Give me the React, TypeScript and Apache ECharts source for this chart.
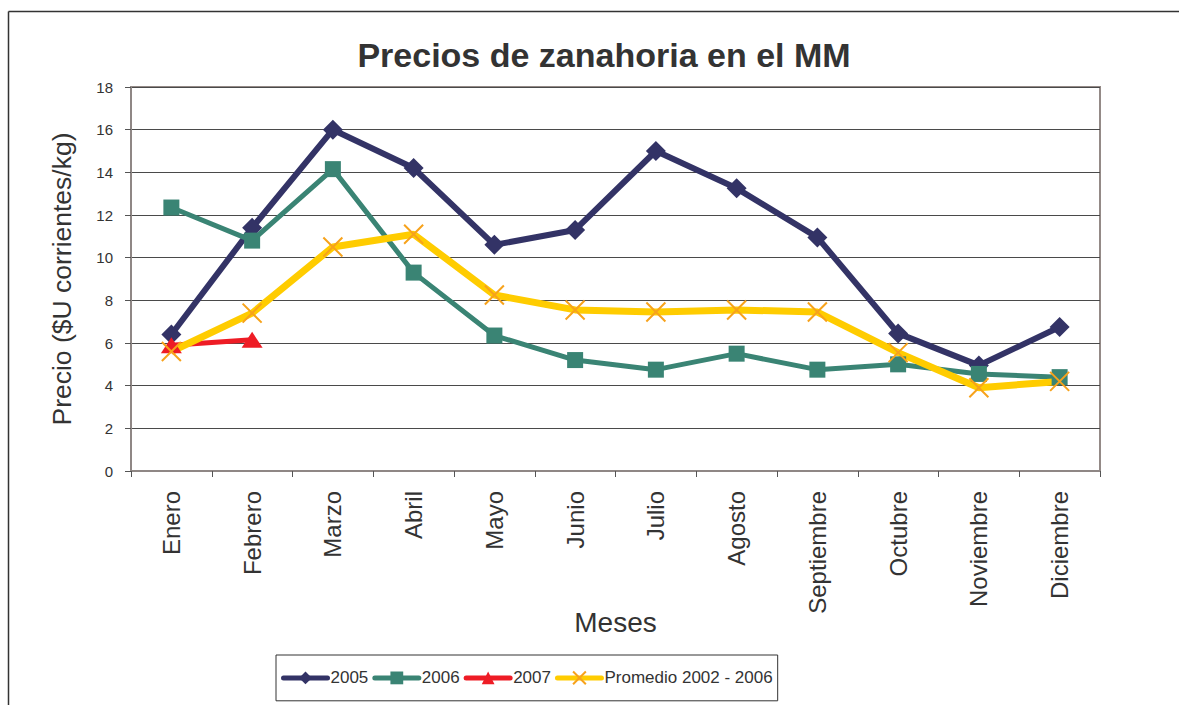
import React, { useEffect, useRef } from "react";
import * as echarts from "echarts";

const months = ["Enero", "Febrero", "Marzo", "Abril", "Mayo", "Junio", "Julio", "Agosto", "Septiembre", "Octubre", "Noviembre", "Diciembre"];
const s2005 = [6.4, 11.4, 16.0, 14.2, 10.6, 11.3, 15.0, 13.25, 10.95, 6.45, 4.95, 6.75];
const s2006 = [12.35, 10.8, 14.15, 9.3, 6.35, 5.2, 4.75, 5.5, 4.75, 5.0, 4.55, 4.4];
const s2007 = [5.9, 6.15, null, null, null, null, null, null, null, null, null, null];
const promedio = [5.6, 7.4, 10.5, 11.1, 8.25, 7.55, 7.45, 7.55, 7.45, 5.55, 3.9, 4.2];
const yTicks = { min: 0, max: 18, interval: 2 };
const seriesNames = ["2005", "2006", "2007", "Promedio 2002 - 2006"];

const FONT = "'Liberation Sans', Arial, Helvetica, sans-serif";

export default function App() {
  const ref = useRef<HTMLDivElement>(null);
  useEffect(() => {
    if (!ref.current) return;
    const chart = echarts.init(ref.current, undefined, { renderer: "svg" });
    const crossPath = "path://M0,0L10,10M10,0L0,10";
    chart.setOption({
      animation: false,
      backgroundColor: "#ffffff",
      title: {
        text: "Precios de zanahoria en el MM",
        left: 599,
        top: 33,
        textAlign: "center",
        textStyle: { fontFamily: FONT, fontSize: 34, fontWeight: "bold", color: "#333333" },
      },
      graphic: [
        { type: "line", shape: { x1: 8.5, y1: 11.5, x2: 1179, y2: 11.5 }, style: { stroke: "#333", lineWidth: 1.5 } },
        { type: "line", shape: { x1: 8.5, y1: 11.5, x2: 8.5, y2: 705 }, style: { stroke: "#333", lineWidth: 1.5 } },
      ],
      grid: {
        left: 131,
        top: 87,
        right: 79,
        bottom: 234,
        show: true,
        borderColor: "#948a87",
        borderWidth: 2,
        backgroundColor: "transparent",
      },
      legend: {
        left: 276,
        top: 655,
        borderColor: "#333",
        borderWidth: 1,
        padding: [14, 5, 14, 5],
        itemWidth: 44,
        itemHeight: 16,
        itemGap: 4,
        textStyle: { fontFamily: FONT, fontSize: 17, color: "#333333", padding: [0, 0, 0, -2] },
        data: [
          { name: seriesNames[0], lineStyle: { width: 5, cap: "round" } },
          { name: seriesNames[1], lineStyle: { width: 5, cap: "round" } },
          { name: seriesNames[2], lineStyle: { width: 5, cap: "round" } },
          { name: seriesNames[3], lineStyle: { width: 5, cap: "round" } },
        ],
      },
      xAxis: {
        type: "category",
        data: months,
        boundaryGap: true,
        name: "Meses",
        nameLocation: "middle",
        nameGap: 137,
        nameMoveOverlap: false,
        nameTextStyle: { fontFamily: FONT, fontSize: 28, color: "#333333" },
        axisLine: { show: true, lineStyle: { color: "#8f8785", width: 2 } },
        axisTick: { show: true, length: 6, lineStyle: { color: "#555" }, alignWithLabel: false },
        axisLabel: { rotate: 90, margin: 20, fontFamily: FONT, fontSize: 24, color: "#333333", interval: 0 },
        splitLine: { show: false },
      },
      yAxis: {
        type: "value",
        min: yTicks.min,
        max: yTicks.max,
        interval: yTicks.interval,
        name: "Precio ($U corrientes/kg)",
        nameLocation: "middle",
        nameGap: 56,
        nameMoveOverlap: false,
        nameTextStyle: { fontFamily: FONT, fontSize: 26.5, color: "#333333" },
        axisLine: { show: true, lineStyle: { color: "#8f8785", width: 2 } },
        axisTick: { show: true, length: 6, lineStyle: { color: "#555" } },
        axisLabel: { margin: 18, fontFamily: FONT, fontSize: 15, color: "#333333" },
        splitLine: { show: true, lineStyle: { color: "#4a4a4a", width: 1 } },
      },
      series: [
        {
          name: seriesNames[0],
          type: "line",
          data: s2005,
          symbol: "diamond",
          symbolSize: 20,
          lineStyle: { color: "#333366", width: 6 },
          itemStyle: { color: "#333366" },
        },
        {
          name: seriesNames[1],
          type: "line",
          data: s2006,
          symbol: "rect",
          symbolSize: 16,
          lineStyle: { color: "#3a8474", width: 5 },
          itemStyle: { color: "#3a8474" },
        },
        {
          name: seriesNames[2],
          type: "line",
          data: s2007,
          symbol: "triangle",
          symbolSize: [21, 16],
          lineStyle: { color: "#ee1c25", width: 5 },
          itemStyle: { color: "#ee1c25" },
        },
        {
          name: seriesNames[3],
          type: "line",
          data: promedio,
          symbol: crossPath,
          symbolSize: 19,
          lineStyle: { color: "#ffcc00", width: 7 },
          itemStyle: { color: "none", borderColor: "#f7a21b", borderWidth: 2 },
        },
      ],
    });
    return () => chart.dispose();
  }, []);
  return <div ref={ref} style={{ width: 1179, height: 705, position: "absolute", left: 0, top: 0 }} />;
}
